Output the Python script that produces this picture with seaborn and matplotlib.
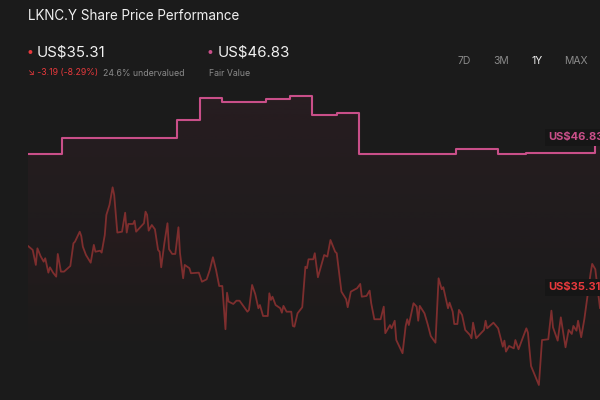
import numpy as np
import matplotlib
matplotlib.use("Agg")
import matplotlib.pyplot as plt
import matplotlib.colors as mcolors
import seaborn as sns

# LKNC.Y share price (US$), day offsets over the last year
price_days = [0, 3, 5, 6, 8, 10, 11, 13, 14, 16, 18, 19, 21, 23, 26, 27, 29, 30, 33, 34,
              35, 37, 40, 42, 43, 46, 47, 49, 50, 52, 54, 55, 57, 60, 62, 63, 64, 67, 68, 69,
              74, 75, 76, 77, 79, 81, 83, 84, 85, 87, 89, 90, 92, 94, 96, 97, 99, 100, 103, 104,
              109, 111, 114, 116, 118, 120, 122, 124, 126, 127, 128, 131, 133, 135, 140, 141, 143, 145, 147, 148,
              150, 153, 154, 155, 156, 158, 161, 162, 163, 165, 168, 169, 170, 172, 175, 177, 178, 179, 182, 183,
              185, 189, 191, 193, 196, 197, 200, 203, 204, 206, 210, 212, 213, 216, 218, 219, 221, 225, 227, 228,
              231, 232, 234, 235, 239, 241, 242, 243, 246, 248, 249, 250, 253, 255, 257, 260, 262, 264, 265, 268,
              269, 271, 272, 274, 275, 277, 279, 282, 283, 284, 286, 291, 292, 293, 297, 300, 303, 304, 305, 307,
              310, 311, 313, 318, 319, 321, 326, 328, 332, 334, 335, 338, 340, 343, 345, 347, 348, 350, 351, 353,
              355, 357, 359, 360, 362, 365]
price_usd = [39.51, 39.24, 38.23, 39.35, 38.83, 38.45, 38.68, 37.71, 38.07, 37.71, 37.44, 38.97, 37.78, 37.78, 38.07, 38.16, 39.69, 39.80, 40.47, 40.18,
             39.46, 38.90, 38.38, 39.58, 39.12, 39.19, 39.06, 40.25, 41.60, 42.27, 43.46, 42.95, 40.41, 40.47, 41.75, 40.41, 40.99, 40.99, 41.21, 40.47,
             41.04, 41.82, 41.60, 40.54, 40.92, 40.63, 39.24, 39.12, 38.07, 39.69, 41.04, 39.29, 38.97, 38.97, 40.77, 39.02, 37.33, 38.23, 38.01, 37.67,
             37.71, 37.10, 37.26, 37.89, 38.75, 37.89, 36.81, 36.81, 33.90, 36.36, 35.76, 35.60, 35.82, 35.82, 35.08, 35.20, 36.88, 36.27, 35.31, 35.53,
             34.79, 34.79, 36.32, 35.87, 36.09, 35.53, 35.31, 35.01, 35.47, 35.08, 35.08, 34.12, 34.07, 34.97, 35.38, 38.11, 38.01, 38.61, 38.61, 39.02,
             37.40, 38.90, 38.79, 39.91, 39.12, 39.02, 36.43, 35.92, 35.38, 36.43, 36.66, 36.95, 36.09, 36.14, 36.50, 35.65, 34.57, 34.57, 35.42, 33.63,
             34.18, 33.96, 34.47, 33.17, 32.28, 34.12, 34.57, 34.18, 35.65, 35.42, 34.47, 35.47, 34.97, 34.25, 33.44, 32.99, 37.33, 36.59, 36.73, 35.31,
             35.69, 35.08, 34.25, 34.25, 35.20, 34.86, 33.85, 33.51, 33.29, 34.34, 33.29, 33.85, 34.47, 33.96, 34.34, 33.96, 32.72, 33.13, 32.39, 32.77,
             32.61, 33.17, 32.55, 33.96, 33.67, 31.42, 30.14, 33.17, 33.22, 35.15, 34.03, 33.13, 34.70, 32.68, 33.85, 33.58, 34.12, 33.80, 34.47, 33.36,
             34.57, 36.14, 37.67, 38.30, 37.94, 35.31]

# fair value estimate (US$), changes on these day offsets
fair_days = [0, 22, 95, 110, 124, 152, 167, 181, 197, 211, 273, 300, 318, 362, 365]
fair_usd = [45.71, 46.80, 48.00, 49.48, 49.21, 49.40, 49.64, 48.32, 48.47, 45.68, 46.03, 45.71, 45.80, 46.83, 46.83]

last_price = 35.31
change = -3.19
change_pct = -8.29
fair_value = 46.83
undervalued_pct = 24.6
periods = ["7D", "3M", "1Y", "MAX"]
active_period = "1Y"

BG = "#1b1b1b"
PRICE_C = "#7e2e2e"
PRICE_TXT = "#e8393c"
FAIR_C = "#c94f89"

sns.set_theme(style="dark", rc={"figure.facecolor": BG, "axes.facecolor": BG})
plt.rcParams["font.family"] = ["Inter", "DejaVu Sans"]

fig = plt.figure(figsize=(6, 4), dpi=100)
ax = fig.add_axes([28 / 600, 0, 572 / 600, 0.8])
ylo, yhi = 29.13, 50.69


def gradient_fill(x, y, color, alpha_top, top, bottom, step=None):
    poly = ax.fill_between(x, y, ylo, step=step, facecolor="none", edgecolor="none")
    grad = np.zeros((256, 1, 4))
    grad[..., :3] = mcolors.to_rgb(color)
    grad[..., 3] = np.linspace(alpha_top, 0, 256)[:, None]
    im = ax.imshow(grad, aspect="auto", origin="upper", zorder=1,
                   extent=[x[0], x[-1], bottom, top])
    im.set_clip_path(poly.get_paths()[0], transform=ax.transData)


gradient_fill(fair_days, fair_usd, "#6e2a40", 0.15, 49.7, 34.0, step="post")
gradient_fill(price_days, price_usd, "#6a1f1f", 0.12, 43.5, 31.5)

sns.lineplot(x=fair_days, y=fair_usd, drawstyle="steps-post", color=FAIR_C,
             lw=1.5, ax=ax, zorder=3)
sns.lineplot(x=price_days, y=price_usd, color=PRICE_C, lw=1.3, ax=ax, zorder=3)

ax.set_xlim(0, 365)
ax.set_ylim(ylo, yhi)
ax.set_axis_off()

ax.annotate(f"US${fair_value:.2f}", xy=(fair_days[-1], fair_value), xytext=(-37, 0),
            textcoords="offset points", ha="left", va="center", color=FAIR_C,
            fontsize=8, fontweight="bold", annotation_clip=False,
            bbox=dict(boxstyle="square,pad=0.3", fc="#161616", ec="none"))
ax.annotate(f"US${last_price:.2f}", xy=(price_days[-1], last_price), xytext=(-37, 15),
            textcoords="offset points", ha="left", va="center", color=PRICE_TXT,
            fontsize=8, fontweight="bold", annotation_clip=False,
            bbox=dict(boxstyle="square,pad=0.3", fc="#161616", ec="none"))


def px(x, y):
    return x / 600, 1 - y / 400


fig.text(*px(28, 16), "LKNC.Y Share Price Performance", color="#f0f0f0",
         fontsize=9.7, va="center", ha="left")

fig.text(*px(27, 53), "•", color=PRICE_TXT, fontsize=9, va="center")
fig.text(*px(37, 53), f"US${last_price:.2f}", color="#f2f2f2", fontsize=10.8, va="center")
fig.text(*px(28, 73), f"↘ {change:.2f} ({change_pct:.2f}%)", color=PRICE_TXT,
         fontsize=6.3, va="center")
fig.text(*px(103, 73), f"{undervalued_pct}% undervalued", color="#8a8a8a",
         fontsize=6.3, va="center")

fig.text(*px(207, 53), "•", color=FAIR_C, fontsize=9, va="center")
fig.text(*px(218, 53), f"US${fair_value:.2f}", color="#f2f2f2", fontsize=10.8, va="center")
fig.text(*px(209, 73), "Fair Value", color="#8a8a8a", fontsize=6.3, va="center")

for label, xp in zip(periods, [464, 501, 537, 576]):
    fig.text(*px(xp, 61), label, color="#f2f2f2" if label == active_period else "#8a8a8a",
             fontsize=7.5, va="center", ha="center")

fig.savefig("out.png", dpi=100, facecolor=BG)
